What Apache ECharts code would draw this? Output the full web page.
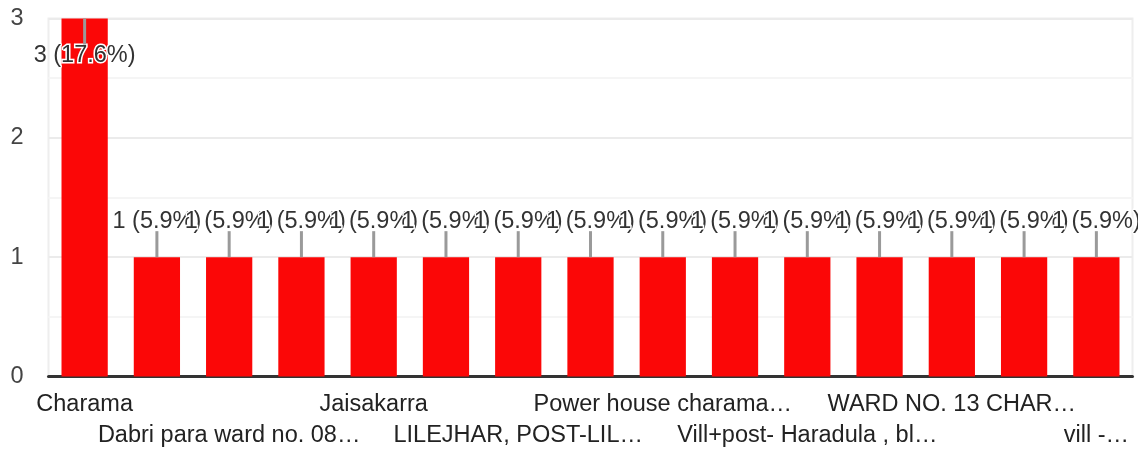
<!DOCTYPE html>
<html>
<head>
<meta charset="utf-8">
<script src="https://cdn.jsdelivr.net/npm/echarts@6/dist/echarts.min.js"></script>
<style>
html,body{margin:0;padding:0;background:#fff;}
#chart{width:1138px;height:453px;}
</style>
</head>
<body>
<div id="chart"></div>
<script>
// answers, only every other name is visible on the axis
var places = ['Charama', '', 'Dabri para ward no. 08…', '', 'Jaisakarra', '',
    'LILEJHAR, POST-LIL…', '', 'Power house charama…', '', 'Vill+post- Haradula , bl…', '',
    'WARD NO. 13 CHAR…', '', 'vill -…'];
var counts = [3, 1, 1, 1, 1, 1, 1, 1, 1, 1, 1, 1, 1, 1, 1];
var yTicks = [0, 1, 2, 3];

var total = 0;
for (var i = 0; i < counts.length; i++) total += counts[i];
var yMax = yTicks[yTicks.length - 1];

var font = "'Liberation Sans', Arial, sans-serif";

var barData = [];
var lineData = [];
for (var i = 0; i < counts.length; i++) {
    var atTop = counts[i] >= yMax;
    barData.push({
        value: counts[i],
        label: atTop ? {position: 'insideTop', distance: 25} : {position: 'top', distance: 24}
    });
    lineData.push([i, counts[i]]);
}

// names alternate between two rows under the axis
function rowAxis(row) {
    return {
        type: 'category',
        data: places,
        position: 'bottom',
        offset: row * 31,
        axisTick: {show: false},
        splitLine: {show: false},
        axisLine: row === 0 ? {lineStyle: {color: '#333', width: 3}} : {show: false},
        axisLabel: {
            interval: function (idx) { return idx % 4 === row * 2; },
            margin: 13,
            fontSize: 23.5,
            lineHeight: 31,
            color: '#222',
            fontFamily: font
        }
    };
}

var chart = echarts.init(document.getElementById('chart'));
var option = {
    backgroundColor: '#fff',
    animation: false,
    grid: {
        left: 48.5,
        right: 5.5,
        top: 18.5,
        bottom: 76.5,
        show: true,
        borderColor: '#eeeeee',
        borderWidth: 2
    },
    xAxis: [rowAxis(0), rowAxis(1)],
    yAxis: {
        type: 'value',
        min: yTicks[0],
        max: yMax,
        interval: 1,
        axisLine: {show: false},
        axisTick: {show: false},
        axisLabel: {margin: 25, fontSize: 23.5, color: '#444', fontFamily: font},
        splitLine: {lineStyle: {color: '#ebebeb', width: 2}},
        minorTick: {show: false, splitNumber: 2},
        minorSplitLine: {show: true, lineStyle: {color: '#f5f5f5', width: 2}}
    },
    series: [
        {
            type: 'bar',
            data: barData,
            barCategoryGap: '36%',
            itemStyle: {color: '#fb0707'},
            label: {
                show: true,
                fontSize: 23.5,
                color: '#333',
                fontFamily: font,
                textBorderColor: '#fff',
                textBorderWidth: 3,
                formatter: function (p) {
                    return p.value + ' (' + (p.value / total * 100).toFixed(1) + '%)';
                }
            },
            labelLayout: {hideOverlap: false}
        },
        {
            // leader lines from bar top to label
            type: 'custom',
            data: lineData,
            z: 3,
            renderItem: function (params, api) {
                var p = api.coord([api.value(0), api.value(1)]);
                var dir = api.value(1) >= yMax ? 1 : -1;
                return {
                    type: 'line',
                    shape: {x1: p[0], y1: p[1], x2: p[0], y2: p[1] + dir * 26},
                    style: {stroke: '#9a9a9a', lineWidth: 3}
                };
            }
        }
    ]
};
chart.setOption(option);
window.onresize = chart.resize;
</script>
</body>
</html>
